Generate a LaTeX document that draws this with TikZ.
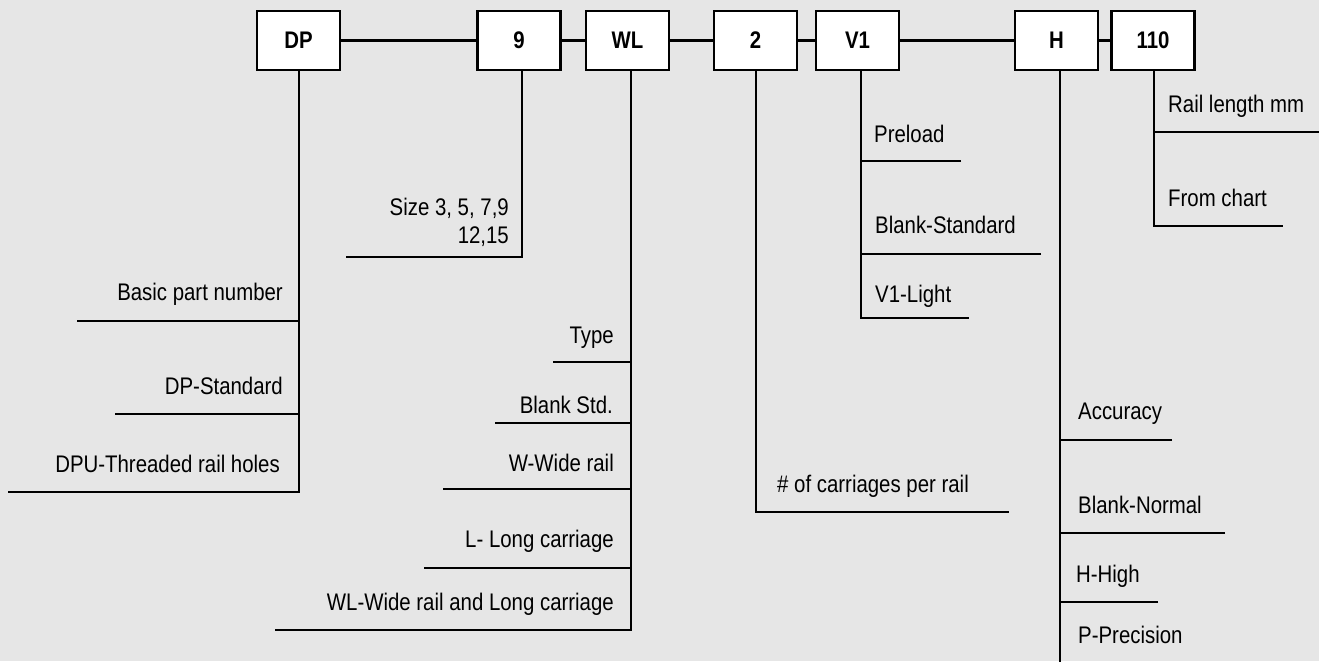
\documentclass[tikz,border=0pt]{standalone}
\usepackage{fontspec}
\setmainfont{Liberation Sans}[FakeStretch=0.85]
\definecolor{bg}{HTML}{E6E6E6}
\begin{document}
\begin{tikzpicture}[x=1pt,y=-1pt,
  box/.style={draw, line width=2.5pt, fill=white, minimum width=83pt, minimum height=59pt, inner sep=0pt, font=\fontsize{24}{28}\selectfont\bfseries},
  ln/.style={line width=2.3pt},
  lbl/.style={inner sep=0pt, font=\fontsize{24}{28}\selectfont},
  lblL/.style={lbl, anchor=base east},
  lblR/.style={lbl, anchor=base west}]
\fill[bg] (0,0) rectangle (1319,661);
\useasboundingbox (0,0) rectangle (1319,661);

% boxes
\node[box] (dp)   at (298.5,40.5) {DP};
\node[box] (n9)   at (519,40.5)   {9};
\node[box] (wl)   at (627.5,40.5) {WL};
\node[box] (n2)   at (755.5,40.5) {2};
\node[box] (v1)   at (857.5,40.5) {V1};
\node[box] (h)    at (1056.5,40.5) {H};
\node[box] (l110) at (1153,40.5)  {110};

% chain connectors
\draw[ln] (dp) -- (n9);
\draw[ln] (n9) -- (wl);
\draw[ln] (wl) -- (n2);
\draw[ln] (n2) -- (v1);
\draw[ln] (v1) -- (h);
\draw[ln] (h) -- (l110);

% ---- DP branch
\coordinate (dpE) at (299,492);
\coordinate (dpS3) at (8,492);
\coordinate (dpS1) at (77,321);
\coordinate (dpS2) at (115,414);
\draw[ln] (dp.south -| dpE) -- (dpE) -- (dpS3);
\draw[ln] (dpS1) -- (dpS1 -| dpE);
\draw[ln] (dpS2) -- (dpS2 -| dpE);
\node[lblL] (tdp1) at (283,300) {Basic part number};
\node[lblL] (tdp2) at (283,394) {DP-Standard};
\node[lblL] (tdp3) at (280,472) {DPU-Threaded rail holes};

% ---- 9 branch
\coordinate (n9E) at (522,257);
\coordinate (n9S) at (346,257);
\draw[ln] (n9.south -| n9E) -- (n9E) -- (n9S);
\node[lblL] (t91) at (509,215) {Size 3, 5, 7,9};
\node[lblL] (t92) at (509,243) {12,15};

% ---- WL branch
\coordinate (wlE) at (631,630);
\coordinate (wlS5) at (275,630);
\coordinate (wlS1) at (553,362);
\coordinate (wlS2) at (495,423);
\coordinate (wlS3) at (443,489);
\coordinate (wlS4) at (424,568);
\draw[ln] (wl.south -| wlE) -- (wlE) -- (wlS5);
\draw[ln] (wlS1) -- (wlS1 -| wlE);
\draw[ln] (wlS2) -- (wlS2 -| wlE);
\draw[ln] (wlS3) -- (wlS3 -| wlE);
\draw[ln] (wlS4) -- (wlS4 -| wlE);
\node[lblL] (twl1) at (614,343) {Type};
\node[lblL] (twl2) at (613,413) {Blank Std.};
\node[lblL] (twl3) at (614,471) {W-Wide rail};
\node[lblL] (twl4) at (614,547) {L- Long carriage};
\node[lblL] (twl5) at (614,610) {WL-Wide rail and Long carriage};

% ---- 2 branch
\coordinate (n2E) at (756,512);
\coordinate (n2S) at (1009,512);
\draw[ln] (n2.south -| n2E) -- (n2E) -- (n2S);
\node[lblR] (t21) at (777,492) {\# of carriages per rail};

% ---- V1 branch
\coordinate (v1E) at (861,318);
\coordinate (v1S3) at (969,318);
\coordinate (v1S1) at (961,161);
\coordinate (v1S2) at (1041,254);
\draw[ln] (v1.south -| v1E) -- (v1E) -- (v1S3);
\draw[ln] (v1S1) -- (v1S1 -| v1E);
\draw[ln] (v1S2) -- (v1S2 -| v1E);
\node[lblR] (tv11) at (874,142) {Preload};
\node[lblR] (tv12) at (875,233) {Blank-Standard};
\node[lblR] (tv13) at (875,302) {V1-Light};

% ---- H branch
\coordinate (hE) at (1060,662);
\coordinate (hS1) at (1172,440);
\coordinate (hS2) at (1225,533);
\coordinate (hS3) at (1158,602);
\draw[ln] (h.south -| hE) -- (hE);
\draw[ln] (hS1) -- (hS1 -| hE);
\draw[ln] (hS2) -- (hS2 -| hE);
\draw[ln] (hS3) -- (hS3 -| hE);
\node[lblR] (th1) at (1078,419) {Accuracy};
\node[lblR] (th2) at (1078,513) {Blank-Normal};
\node[lblR] (th3) at (1076,582) {H-High};
\node[lblR] (th4) at (1078,643) {P-Precision};

% ---- 110 branch
\coordinate (lE) at (1154,226);
\coordinate (lS2) at (1283,226);
\coordinate (lS1) at (1319,132);
\draw[ln] (l110.south -| lE) -- (lE) -- (lS2);
\draw[ln] (lS1) -- (lS1 -| lE);
\node[lblR] (tl1) at (1168,112) {Rail length mm};
\node[lblR] (tl2) at (1168,206) {From chart};
\end{tikzpicture}
\end{document}
